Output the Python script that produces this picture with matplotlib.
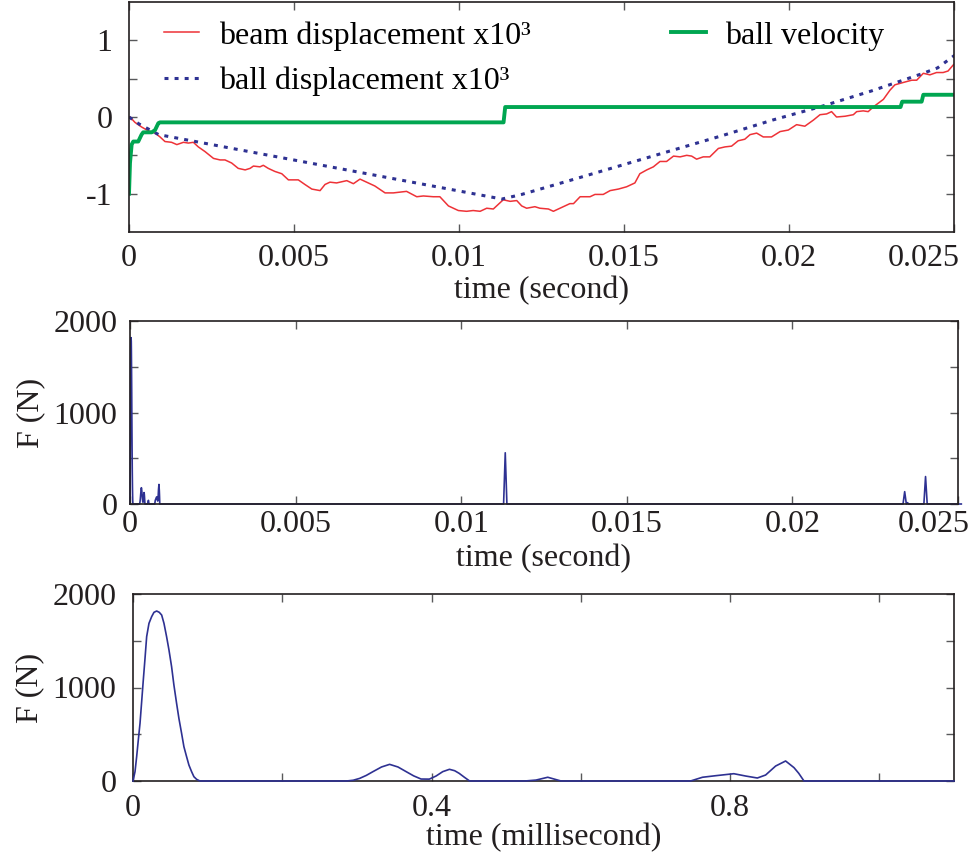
import numpy as np
import matplotlib
matplotlib.use("Agg")
import matplotlib.pyplot as plt
from matplotlib.transforms import ScaledTranslation

plt.rcParams['font.family'] = ['Liberation Serif', 'DejaVu Serif']
plt.rcParams['font.size'] = 23

# ---------------- data ----------------
# top panel: beam displacement (x10^3)
beam_t = [0.0, 0.00003, 0.00018, 0.00038, 0.00058, 0.00079, 0.00094, 0.00109, 0.00129, 0.00145,
          0.00165, 0.0018, 0.00195, 0.0021, 0.0023, 0.00256, 0.00276, 0.00291, 0.00311, 0.00331,
          0.00352, 0.00367, 0.00377, 0.00397, 0.00407, 0.00422, 0.00442, 0.00463, 0.00483, 0.00513,
          0.00533, 0.00554, 0.00579, 0.00594, 0.00609, 0.00629, 0.0066, 0.0068, 0.007, 0.0072,
          0.00745, 0.00776, 0.00801, 0.00821, 0.00841, 0.00872, 0.00892, 0.00922, 0.00942, 0.00968,
          0.00998, 0.01023, 0.01043, 0.01064, 0.01084, 0.01104, 0.01134, 0.01155, 0.01175, 0.0119,
          0.01205, 0.0123, 0.01245, 0.01271, 0.01286, 0.01306, 0.01336, 0.01347, 0.01367, 0.01397,
          0.01412, 0.01437, 0.01458, 0.01483, 0.01508, 0.01533, 0.01548, 0.01569, 0.01589, 0.01609,
          0.01629, 0.0165, 0.0167, 0.0169, 0.01705, 0.0172, 0.0174, 0.0176, 0.01786, 0.01806,
          0.01826, 0.01846, 0.01866, 0.01882, 0.01902, 0.01922, 0.01947, 0.01973, 0.01998, 0.02023,
          0.02048, 0.02074, 0.02094, 0.02114, 0.02129, 0.02144, 0.0217, 0.02195, 0.02205, 0.02225,
          0.0224, 0.02255, 0.02286, 0.02306, 0.02321, 0.02346, 0.02372, 0.02387, 0.02407, 0.02427,
          0.02447, 0.02467, 0.02482, 0.02498, 0.0251]
beam_v = [0.0, 0.0, -0.07, -0.13, -0.18, -0.21, -0.26, -0.32, -0.33, -0.36,
          -0.33, -0.34, -0.33, -0.39, -0.45, -0.54, -0.56, -0.56, -0.6, -0.67,
          -0.69, -0.67, -0.64, -0.65, -0.63, -0.67, -0.71, -0.74, -0.82, -0.82,
          -0.88, -0.94, -0.96, -0.88, -0.85, -0.86, -0.83, -0.87, -0.81, -0.85,
          -0.9, -0.99, -0.99, -0.98, -0.97, -1.04, -1.03, -1.04, -1.04, -1.16,
          -1.22, -1.23, -1.22, -1.23, -1.19, -1.2, -1.08, -1.1, -1.09, -1.16,
          -1.19, -1.17, -1.19, -1.2, -1.23, -1.19, -1.13, -1.13, -1.04, -1.04,
          -1.01, -1.01, -0.96, -0.94, -0.91, -0.86, -0.74, -0.69, -0.65, -0.58,
          -0.58, -0.51, -0.52, -0.5, -0.51, -0.55, -0.52, -0.52, -0.41, -0.39,
          -0.38, -0.31, -0.29, -0.23, -0.21, -0.26, -0.26, -0.19, -0.17, -0.1,
          -0.12, -0.04, 0.03, 0.04, 0.07, 0.0, 0.01, 0.03, 0.07, 0.08,
          0.07, 0.13, 0.23, 0.35, 0.42, 0.45, 0.48, 0.48, 0.57, 0.55,
          0.58, 0.58, 0.6, 0.68, 0.72]

# ball displacement (x10^3)
ball_t = [0.0, 0.0003, 0.0009, 0.0113, 0.0119, 0.0135, 0.0150, 0.0165, 0.0180, 0.0195,
          0.0210, 0.0225, 0.0240, 0.0245, 0.0251]
ball_v = [0.0, -0.09, -0.23, -1.07, -1.01, -0.81, -0.62, -0.43, -0.24, -0.04,
          0.14, 0.34, 0.56, 0.64, 0.83]

# ball velocity
vel_t = [0.0, 0.00003, 0.00008, 0.00013, 0.00028, 0.00038, 0.00043, 0.00069, 0.00079, 0.00089,
         0.00094, 0.01135, 0.01140, 0.02338, 0.02343, 0.02402, 0.02407, 0.0251]
vel_v = [-1.0, -0.6, -0.36, -0.32, -0.32, -0.23, -0.20, -0.20, -0.17, -0.08,
         -0.07, -0.07, 0.13, 0.13, 0.20, 0.20, 0.29, 0.29]

# contact force, first millisecond (time in ms)
f_ms = [0.0, 0.0027, 0.0049, 0.0071, 0.0094, 0.0116, 0.0138, 0.0161, 0.0183, 0.0214,
        0.025, 0.0281, 0.0317, 0.0352, 0.0384, 0.0415, 0.045, 0.0482, 0.0517, 0.0548,
        0.0584, 0.0615, 0.0651, 0.0682, 0.0718, 0.0749, 0.0785, 0.0816, 0.0852, 0.0896,
        0.286, 0.295, 0.3037, 0.3126, 0.3215, 0.333, 0.3438, 0.355, 0.366, 0.376,
        0.386, 0.397, 0.406, 0.415, 0.424, 0.431, 0.437, 0.444, 0.451,
        0.525, 0.540, 0.5557, 0.5735,
        0.747, 0.763, 0.781, 0.805, 0.821, 0.8365, 0.8476, 0.861, 0.8744,
        0.8856, 0.892, 0.899, 1.1]
f_N = [0, 100, 260, 438, 617, 848, 1080, 1312, 1544, 1686,
       1758, 1804, 1818, 1804, 1775, 1686, 1544, 1401, 1223, 1027,
       831, 670, 510, 367, 260, 171, 100, 46, 18, 0,
       0, 8, 28, 60, 100, 150, 178, 150, 100, 55,
       21, 20, 53, 100, 125, 110, 82, 40, 0,
       0, 10, 40, 0,
       0, 40, 57, 78, 53, 32, 64, 160, 214,
       143, 82, 0, 0]

# later impacts (time in s)
late_t = [0.01128, 0.01133, 0.01138, 0.02334, 0.02339, 0.02344, 0.02348, 0.0235,
          0.02397, 0.02402, 0.02407, 0.0251]
late_F = [0, 560, 0, 0, 135, 0, 15, 0, 0, 300, 0, 0]

RED = '#ee3237'
GREEN = '#00a651'
NAVY = '#2e3192'
TXT = '#231f20'
TICK = '#58595b'

W, H = 969, 857
fig = plt.figure(figsize=(W / 100, H / 100), dpi=100)


def axes_px(l, t, r, b):
    return fig.add_axes([l / W, 1 - b / H, (r - l) / W, (b - t) / H])


def style(ax):
    for s in ax.spines.values():
        s.set_linewidth(1.2)
        s.set_color(TXT)
    ax.tick_params(which='both', direction='in', length=6, width=1.0, color=TICK,
                   top=True, right=True, labelcolor=TXT, labelsize=23)


def shift_label(ax, idx, dx_px, dy_px=0):
    lab = ax.get_xticklabels()[idx]
    lab.set_transform(lab.get_transform() + ScaledTranslation(dx_px / 100, dy_px / 100, fig.dpi_scale_trans))


# ---------------- top panel ----------------
ax1 = axes_px(129, 2, 954, 232)
style(ax1)
l1, = ax1.plot(beam_t, beam_v, color=RED, lw=1.1, label='beam displacement x10³')
l2, = ax1.plot(ball_t, ball_v, color=NAVY, lw=2.2, linestyle=(0, (1.3, 2.0)),
               label='ball displacement x10³')
l3, = ax1.plot(vel_t, vel_v, color=GREEN, lw=2.8, label='ball velocity')
ax1.set_xlim(0, 0.025)
ax1.set_ylim(-1.5, 1.5)
ax1.set_xticks([0, 0.005, 0.01, 0.015, 0.02, 0.025])
ax1.set_xticklabels(['0', '0.005', '0.01', '0.015', '0.02', '0.025'])
ax1.set_yticks([-1, -0.5, 0, 0.5, 1])
ax1.set_yticklabels(['-1', '', '0', '', '1'])
ax1.tick_params(axis='x', pad=9)
ax1.tick_params(axis='y', pad=12)
ax1.set_xlabel('time (second)', color=TXT, labelpad=2)
ax1.legend(handles=[l1, l2, l3], loc='upper left', bbox_to_anchor=(0.035, 0.945), ncol=2,
           frameon=False, handlelength=1.1, handletextpad=0.6, columnspacing=4.4,
           labelspacing=0.5, borderaxespad=0, borderpad=0.2, fontsize=23)

# ---------------- middle panel ----------------
ax2 = axes_px(130, 321, 958, 504)
style(ax2)
mid_t = [x / 1000.0 for x in f_ms[:-1]] + late_t
mid_F = f_N[:-1] + late_F
ax2.plot(mid_t, mid_F, color=NAVY, lw=1.2, clip_on=False)
ax2.set_xlim(0, 0.025)
ax2.set_ylim(0, 2000)
ax2.set_xticks([0, 0.005, 0.01, 0.015, 0.02, 0.025])
ax2.set_xticklabels(['0', '0.005', '0.01', '0.015', '0.02', '0.025'])
ax2.set_yticks([0, 500, 1000, 1500, 2000])
ax2.set_yticklabels(['0', '', '1000', '', '2000'])
ax2.tick_params(axis='x', pad=4)
ax2.tick_params(axis='y', pad=9)
ax2.set_xlabel('time (second)', color=TXT, labelpad=4)
ax2.set_ylabel('F (N)', color=TXT, labelpad=6)

# ---------------- bottom panel ----------------
ax3 = axes_px(133, 594, 954, 781)
style(ax3)
ax3.plot(f_ms, f_N, color=NAVY, lw=1.2, clip_on=False, zorder=5)
ax3.set_xlim(0, 1.1)
ax3.set_ylim(0, 2000)
ax3.set_xticks([0, 0.2, 0.4, 0.6, 0.8, 1.0])
ax3.set_xticklabels(['0', '', '0.4', '', '0.8', ''])
ax3.set_yticks([0, 500, 1000, 1500, 2000])
ax3.set_yticklabels(['0', '', '1000', '', '2000'])
ax3.tick_params(axis='x', pad=9)
ax3.tick_params(axis='y', pad=12)
ax3.set_xlabel('time (millisecond)', color=TXT, labelpad=0)
ax3.set_ylabel('F (N)', color=TXT, labelpad=6)

shift_label(ax1, 5, -30)
shift_label(ax2, 5, -24)

fig.savefig('out.png', dpi=100)
